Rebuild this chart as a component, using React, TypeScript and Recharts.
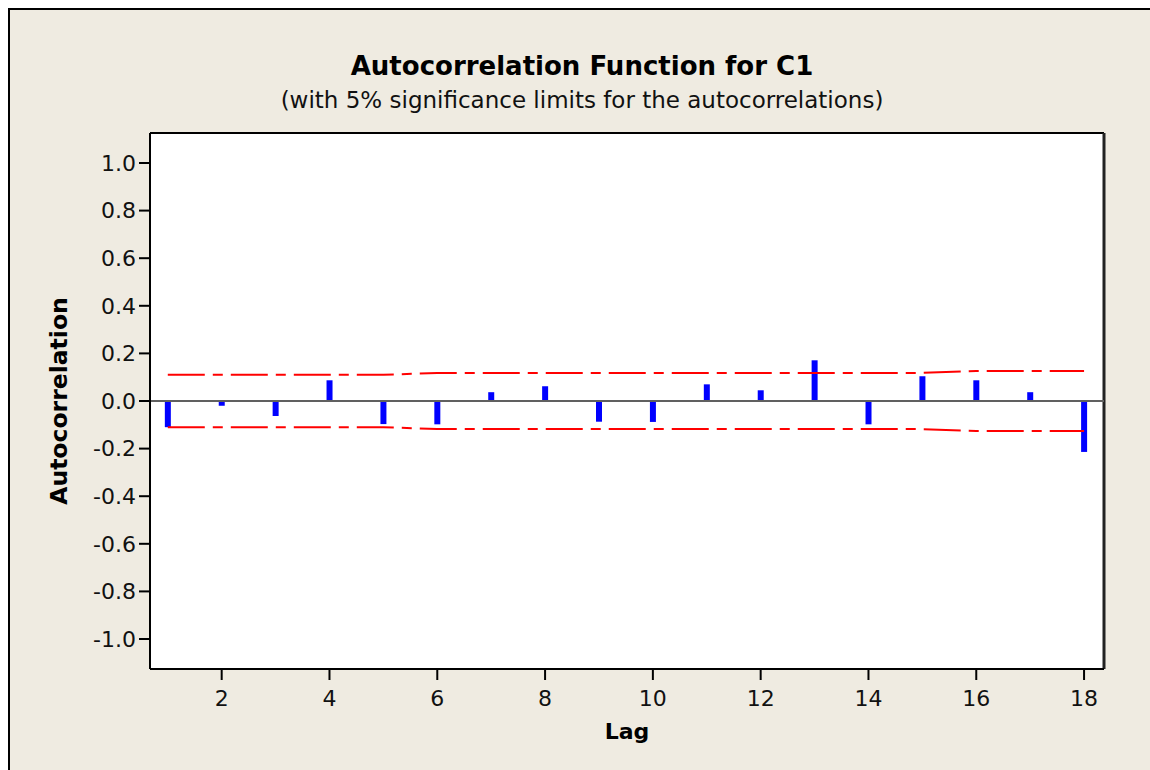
import React from "react";
import {
  ComposedChart,
  Bar,
  Line,
  XAxis,
  YAxis,
  CartesianGrid,
  ReferenceLine,
  Label,
} from "recharts";

// lag values and sample autocorrelations
const lags = [1, 2, 3, 4, 5, 6, 7, 8, 9, 10, 11, 12, 13, 14, 15, 16, 17, 18];
const acf = [
  -0.11, -0.02, -0.063, 0.087, -0.097, -0.098, 0.037, 0.062, -0.087, -0.088,
  0.07, 0.045, 0.171, -0.098, 0.104, 0.087, 0.037, -0.214,
];
// 5% significance limits (upper); lower is the mirror
const upperLimit = [
  0.11, 0.11, 0.11, 0.11, 0.11, 0.118, 0.118, 0.118, 0.118, 0.118, 0.118,
  0.118, 0.118, 0.118, 0.118, 0.126, 0.126, 0.126,
];
const yTicks = [-1, -0.8, -0.6, -0.4, -0.2, 0, 0.2, 0.4, 0.6, 0.8, 1];
const xTicks = [2, 4, 6, 8, 10, 12, 14, 16, 18];

const X_DOMAIN: [number, number] = [0.67, 18.37];
const Y_DOMAIN: [number, number] = [-1.126, 1.126];

const data = lags.map((lag, i) => ({
  lag,
  acf: acf[i],
  upper: upperLimit[i],
  lower: -upperLimit[i],
}));

const FONT = "'DejaVu Sans', Tahoma, sans-serif";
const BG = "#efebe1";

export default function App() {
  const tick = { fill: "#111", fontSize: 22, fontFamily: FONT };
  return (
    <div
      style={{
        position: "fixed",
        left: 8,
        top: 8,
        width: 1180,
        height: 790,
        boxSizing: "border-box",
        background: BG,
        borderTop: "2px solid #000",
        borderLeft: "2px solid #000",
        fontFamily: FONT,
      }}
    >
      <div
        style={{
          position: "absolute",
          left: 0,
          width: 1140,
          top: 41,
          textAlign: "center",
          fontSize: 26,
          fontWeight: "bold",
          color: "#000",
          paddingLeft: 4,
          boxSizing: "border-box",
        }}
      >
        Autocorrelation Function for C1
      </div>
      <div
        style={{
          position: "absolute",
          left: 0,
          width: 1140,
          top: 77,
          textAlign: "center",
          fontSize: 23,
          color: "#111",
          paddingLeft: 4,
          boxSizing: "border-box",
        }}
      >
        (with 5% significance limits for the autocorrelations)
      </div>
      <ComposedChart
        width={1140}
        height={760}
        data={data}
        margin={{ top: 123, right: 46, bottom: 41, left: 70 }}
      >
        <CartesianGrid fill="#ffffff" horizontal={false} vertical={false} />
        <XAxis
          dataKey="lag"
          type="number"
          domain={X_DOMAIN}
          ticks={xTicks}
          allowDataOverflow
          height={60}
          tick={tick}
          tickSize={11}
          tickMargin={10}
          tickLine={{ stroke: "#000", strokeWidth: 2 }}
          axisLine={{ stroke: "#000", strokeWidth: 2 }}
        >
          <Label
            value="Lag"
            position="insideBottom"
            offset={-10}
            style={{ fontSize: 22, fontWeight: "bold", fill: "#000", fontFamily: FONT }}
          />
        </XAxis>
        <YAxis
          type="number"
          domain={Y_DOMAIN}
          ticks={yTicks}
          allowDataOverflow
          width={70}
          tick={tick}
          tickSize={11}
          tickMargin={3}
          tickFormatter={(v: number) => v.toFixed(1)}
          tickLine={{ stroke: "#000", strokeWidth: 2 }}
          axisLine={{ stroke: "#000", strokeWidth: 2 }}
        >
          <Label
            value="Autocorrelation"
            angle={-90}
            position="insideLeft"
            offset={-21}
            style={{
              fontSize: 23.5,
              fontWeight: "bold",
              fill: "#000",
              fontFamily: FONT,
              textAnchor: "middle",
            }}
          />
        </YAxis>
        {/* top and right edges of the plot frame */}
        <ReferenceLine y={Y_DOMAIN[1]} stroke="#000" strokeWidth={2} />
        <ReferenceLine x={X_DOMAIN[1]} stroke="#222" strokeWidth={3} />
        <ReferenceLine y={0} stroke="#606060" strokeWidth={2} />
        <Line
          type="linear"
          dataKey="upper"
          stroke="#ff0000"
          strokeWidth={2}
          strokeDasharray="37 8 10 8"
          dot={false}
          activeDot={false}
          isAnimationActive={false}
        />
        <Line
          type="linear"
          dataKey="lower"
          stroke="#ff0000"
          strokeWidth={2}
          strokeDasharray="37 8 10 8"
          dot={false}
          activeDot={false}
          isAnimationActive={false}
        />
        <Bar dataKey="acf" fill="#0000ff" barSize={6} isAnimationActive={false} />
      </ComposedChart>
    </div>
  );
}
